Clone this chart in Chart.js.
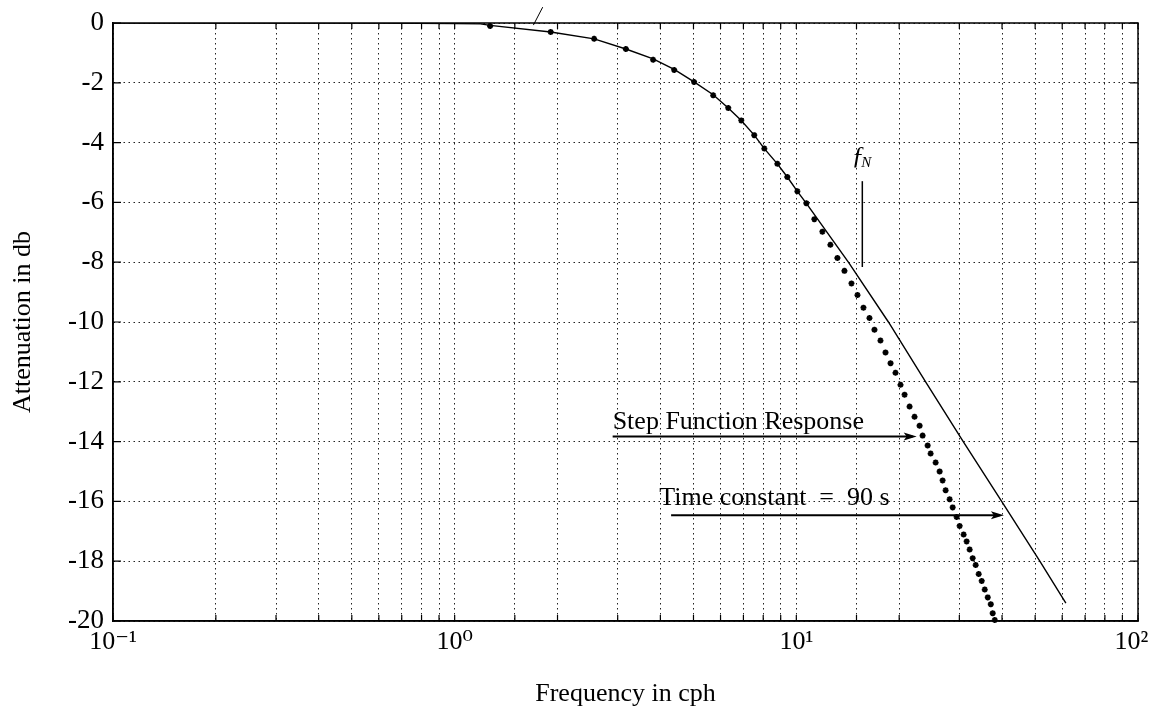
<!DOCTYPE html>
<html>
<head>
<meta charset="utf-8">
<script src="https://cdn.jsdelivr.net/npm/chart.js@4"></script>
<style>
  html, body { margin: 0; padding: 0; background: #fff; }
  #wrap { width: 1152px; height: 713px; }
</style>
</head>
<body>
<div id="wrap"><canvas id="myChart" width="1152" height="713"></canvas></div>
<script>
// curva continua (respuesta teórica)
const lineFreq = [0.1, 0.3, 0.6, 1.0, 1.19, 1.27, 1.91, 2.56, 3.17, 3.81, 4.39, 5.02, 5.71, 6.32, 6.9, 7.53, 8.06, 8.8, 9.41, 10.07, 10.7, 14.2, 18.6, 23.9, 30.8, 39.9, 51.6, 61.5];
const lineDb = [0, 0, 0, -0.02, -0.03, -0.08, -0.3, -0.53, -0.87, -1.2, -1.55, -1.97, -2.4, -2.84, -3.26, -3.75, -4.2, -4.71, -5.15, -5.63, -6.03, -8.0, -10.0, -12.0, -14.0, -16.0, -18.0, -19.4];

// puntos: respuesta a la función escalón
const stepFreq = [1.27, 1.91, 2.56, 3.17, 3.81, 4.39, 5.02, 5.71, 6.32, 6.9,
  7.53, 8.06, 8.8, 9.41, 10.07, 10.7, 11.29, 11.92, 12.58, 13.19,
  13.83, 14.5, 15.1, 15.72, 16.37, 16.93, 17.63, 18.24, 18.87, 19.51,
  20.18, 20.74, 21.45, 22.18, 22.95, 23.42, 24.23, 24.72, 25.57, 26.27,
  26.8, 27.35, 28.1, 28.68, 29.46, 30.06, 30.88, 31.51, 32.16, 32.82,
  33.49, 34.18, 34.88, 35.6, 36.33, 37.08, 37.56, 38.09];
const stepDb = [-0.1, -0.3, -0.53, -0.87, -1.23, -1.57, -1.97, -2.42, -2.84, -3.26,
  -3.75, -4.2, -4.71, -5.15, -5.63, -6.03, -6.56, -6.98, -7.42, -7.86,
  -8.29, -8.71, -9.1, -9.52, -9.87, -10.26, -10.62, -11.02, -11.38, -11.7,
  -12.1, -12.43, -12.83, -13.17, -13.47, -13.8, -14.13, -14.4, -14.7, -15.0,
  -15.3, -15.63, -15.93, -16.2, -16.52, -16.82, -17.11, -17.34, -17.61, -17.9,
  -18.13, -18.43, -18.66, -18.95, -19.21, -19.44, -19.74, -19.97];

// etiquetas de décadas (el espacio final corre "10²" un poco a la izquierda)
const decadeLabels = { 0.1: "10⁻¹", 1: "10⁰", 10: "10¹", 100: "10²\u2002" };
const yTicks = [0, -2, -4, -6, -8, -10, -12, -14, -16, -18, -20];

const serif = "'Liberation Serif', 'Times New Roman', 'DejaVu Serif', serif";

// marco, marcas interiores y anotaciones
const annotPlugin = {
  id: "annot",
  afterDraw(chart) {
    const ctx = chart.ctx;
    const xs = chart.scales.x;
    const ys = chart.scales.y;
    const a = chart.chartArea;
    const px = (f) => xs.getPixelForValue(f);
    const py = (d) => ys.getPixelForValue(d);
    ctx.save();
    ctx.strokeStyle = "#000";
    ctx.fillStyle = "#000";
    ctx.setLineDash([]);

    // marco
    ctx.lineWidth = 1.5;
    ctx.strokeRect(a.left, a.top, a.right - a.left, a.bottom - a.top);

    // marcas hacia adentro
    ctx.lineWidth = 1.2;
    xs.ticks.forEach((t) => {
      const x = px(t.value);
      ctx.beginPath();
      ctx.moveTo(x, a.bottom); ctx.lineTo(x, a.bottom - 6);
      ctx.moveTo(x, a.top); ctx.lineTo(x, a.top + 6);
      ctx.stroke();
    });
    yTicks.forEach((v) => {
      const y = py(v);
      ctx.beginPath();
      ctx.moveTo(a.left, y); ctx.lineTo(a.left + 8, y);
      ctx.moveTo(a.right, y); ctx.lineTo(a.right - 8, y);
      ctx.stroke();
    });

    function arrow(f1, f2, d) {
      const x1 = px(f1), x2 = px(f2), y = py(d);
      ctx.lineWidth = 2;
      ctx.beginPath();
      ctx.moveTo(x1, y); ctx.lineTo(x2 - 4, y);
      ctx.stroke();
      ctx.beginPath();
      ctx.moveTo(x2, y);
      ctx.lineTo(x2 - 13, y - 4);
      ctx.lineTo(x2 - 10, y);
      ctx.lineTo(x2 - 13, y + 4);
      ctx.closePath();
      ctx.fill();
    }

    ctx.font = "26px " + serif;
    ctx.textBaseline = "alphabetic";
    ctx.textAlign = "left";
    ctx.fillText("Step Function Response", px(2.9), py(-13.57));
    arrow(2.9, 22.5, -13.83);

    ctx.fillText("Time constant  =  90 s", px(3.97), py(-16.13));
    arrow(4.3, 40.5, -16.46);

    // f_N
    ctx.font = "italic 26px " + serif;
    ctx.fillText("ƒ", px(14.5), py(-4.71));
    ctx.font = "italic 15px " + serif;
    ctx.fillText("N", px(15.5), py(-4.81));
    ctx.lineWidth = 1.5;
    ctx.beginPath();
    ctx.moveTo(px(15.6), py(-5.29));
    ctx.lineTo(px(15.6), py(-8.16));
    ctx.stroke();

    // trazo suelto arriba
    ctx.lineWidth = 1;
    ctx.beginPath();
    ctx.moveTo(px(1.70), py(-0.07));
    ctx.lineTo(px(1.81), py(0.53));
    ctx.stroke();

    ctx.restore();
  },
};

const ctx = document.getElementById("myChart").getContext("2d");

const config = {
  type: "line",
  data: {
    datasets: [
      {
        label: "Respuesta",
        data: lineFreq.map((f, i) => ({ x: f, y: lineDb[i] })),
        borderColor: "#000",
        borderWidth: 1.4,
        pointRadius: 0,
        tension: 0,
        fill: false,
      },
      {
        label: "Step Function Response",
        data: stepFreq.map((f, i) => ({ x: f, y: stepDb[i] })),
        showLine: false,
        pointStyle: "star",
        pointRadius: 3,
        borderWidth: 1.8,
        borderColor: "#000",
        backgroundColor: "#000",
        clip: false,
      },
    ],
  },
  options: {
    responsive: false,
    animation: false,
    events: [],
    layout: { padding: { top: 23, right: 14, left: 0, bottom: 0 } },
    plugins: {
      legend: { display: false },
      tooltip: { enabled: false },
    },
    scales: {
      x: {
        type: "logarithmic",
        min: 0.1,
        max: 100,
        grid: {
          color: "#222",
          lineWidth: 1,
          drawTicks: false,
        },
        // en v4 "dash" punta las líneas de la grilla
        border: { display: true, color: "#000", width: 1.5, dash: [1.5, 3.5] },
        ticks: {
          autoSkip: false,
          maxRotation: 0,
          minRotation: 0,
          padding: 6,
          color: "#000",
          font: { family: serif, size: 26 },
          callback: (v) => decadeLabels[v] || "",
        },
        title: {
          display: true,
          text: "Frequency in cph",
          color: "#000",
          font: { family: serif, size: 26 },
          padding: { top: 0, bottom: 3 },
        },
        afterFit: (scale) => {
          scale.height = 92;
          scale.paddingLeft = 0;
          scale.paddingRight = 0;
        },
      },
      y: {
        min: -20,
        max: 0,
        grid: {
          color: "#222",
          lineWidth: 1,
          drawTicks: false,
        },
        border: { display: true, color: "#000", width: 1.5, dash: [1.5, 3.5] },
        ticks: {
          stepSize: 2,
          padding: 9,
          color: "#000",
          font: { family: serif, size: 27 },
          callback: (v) => String(v),
        },
        title: {
          display: true,
          text: "Attenuation in db",
          color: "#000",
          font: { family: serif, size: 26 },
          padding: { top: 8, bottom: 0 },
        },
        afterFit: (scale) => {
          scale.width = 113;
          scale.paddingTop = 0;
          scale.paddingBottom = 0;
        },
      },
    },
  },
  plugins: [annotPlugin],
};

const myChart = new Chart(ctx, config);
</script>
</body>
</html>
